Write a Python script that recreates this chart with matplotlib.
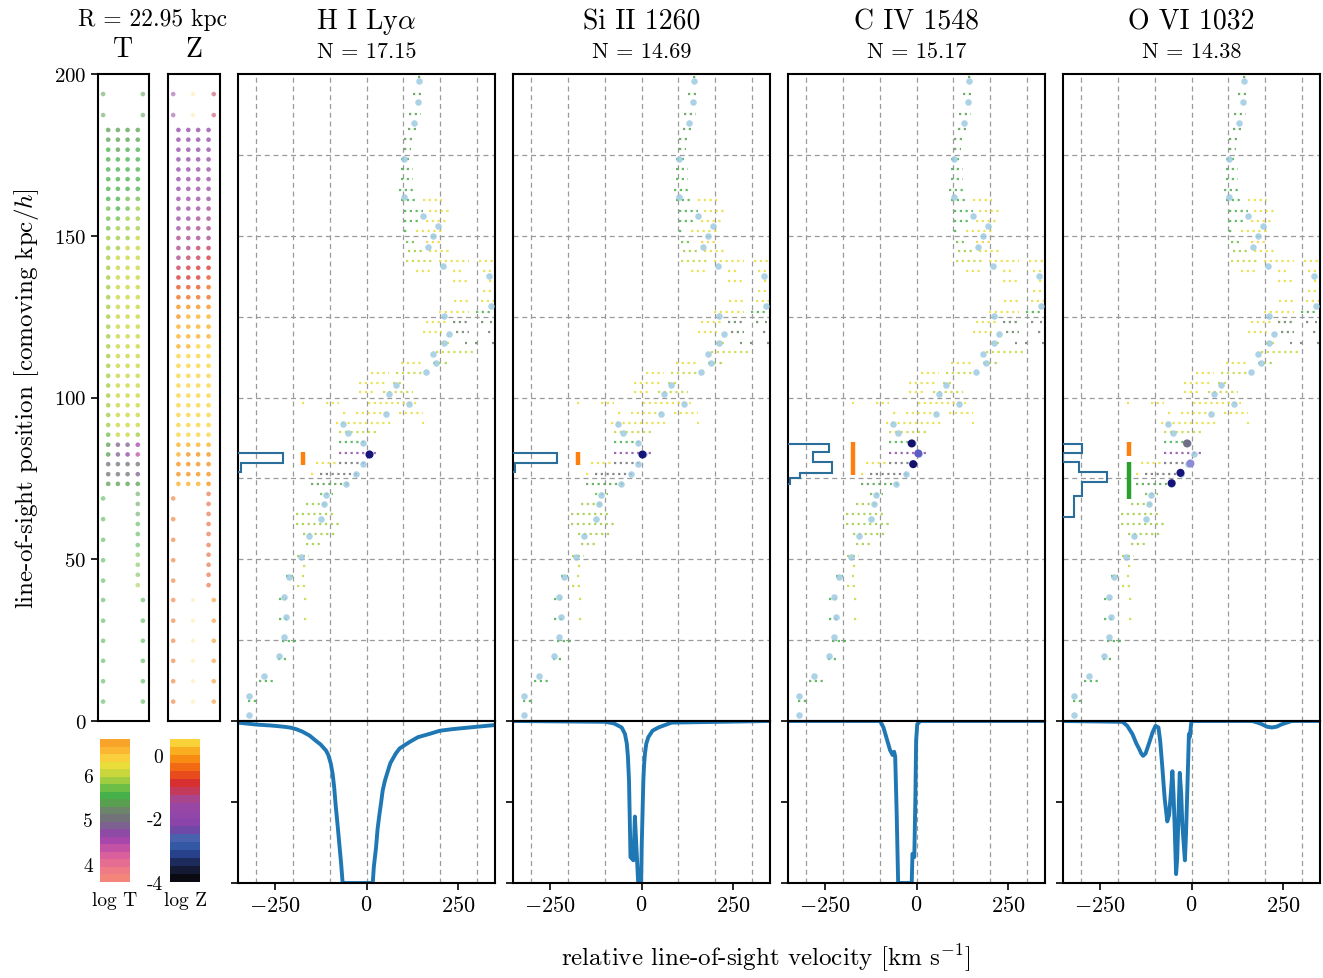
import matplotlib
matplotlib.use("Agg")
import matplotlib.pyplot as plt
import numpy as np
from matplotlib.colors import ListedColormap, Normalize
from matplotlib.cm import ScalarMappable

plt.rcParams.update({
    "font.family": "serif",
    "font.serif": ["cmr10"],
    "mathtext.fontset": "cm",
    "axes.formatter.use_mathtext": True,
    "axes.unicode_minus": True,
})

# ---------------------------------------------------------------- data
ions = ["H I Ly$\\alpha$", "Si II 1260", "C IV 1548", "O VI 1032"]
log_N = [17.15, 14.69, 15.17, 14.38]
impact_R = 22.95

# synthetic spectra: velocity [km/s] and normalised flux
hi_v = [-350, -300, -260, -240, -219, -205, -192, -175, -155, -138, -125, -110, -104, -97,
        -92, -88, -84, -79, -74, -69, -65, 17, 20, 26, 30, 35, 40, 44, 50, 58, 65, 80, 90,
        100, 117, 140, 171, 200, 235, 280, 326, 350]
hi_f = [0.99, 0.978, 0.972, 0.968, 0.963, 0.958, 0.95, 0.935, 0.91, 0.878, 0.855, 0.817,
        0.79, 0.735, 0.67, 0.59, 0.48, 0.364, 0.24, 0.117, 0.0, 0.0, 0.1, 0.22, 0.33, 0.42,
        0.5, 0.57, 0.63, 0.69, 0.74, 0.80, 0.83, 0.845, 0.87, 0.9, 0.92, 0.94, 0.95, 0.96,
        0.97, 0.975]
si_v = [-350, -99, -75, -54, -45, -40, -37, -34, -32, -30, -22, -18, -13, -9, -1, 0.5, 3,
        5, 7, 9.5, 13, 18.5, 30, 46, 82, 350]
si_f = [1.0, 0.995, 0.985, 0.96, 0.92, 0.86, 0.78, 0.63, 0.4, 0.16, 0.14, 0.41, 0.18, 0.0,
        0.0, 0.22, 0.45, 0.63, 0.73, 0.80, 0.86, 0.90, 0.94, 0.96, 0.99, 1.0]
civ_v = [-350, -99, -90, -81, -72, -65, -61, -58, -54, -50, -13, -11, -6, -3, -1, 2, 10, 350]
civ_f = [1.0, 1.0, 0.96, 0.89, 0.82, 0.79, 0.81, 0.78, 0.43, 0.0, 0.0, 0.18, 0.16, 0.53,
         0.88, 0.98, 1.0, 1.0]
ovi_v = [-350, -188, -175, -161, -150, -143, -137, -132, -125, -116, -106, -98, -90, -85,
         -80, -73, -66, -61, -57, -52, -49, -46, -42, -39, -36, -32, -28, -25, -18, -15,
         -12, -7, -5, 0, 165, 180, 192, 205, 219, 232, 246, 273, 350]
ovi_f = [1.0, 0.995, 0.97, 0.92, 0.86, 0.83, 0.80, 0.785, 0.80, 0.86, 0.93, 0.97, 0.96,
         0.87, 0.73, 0.52, 0.38, 0.42, 0.53, 0.69, 0.55, 0.36, 0.055, 0.15, 0.38, 0.68,
         0.55, 0.36, 0.14, 0.3, 0.53, 0.92, 0.90, 1.0, 1.0, 0.99, 0.98, 0.965, 0.96, 0.965,
         0.98, 1.0, 1.0]
spec_v = [hi_v, si_v, civ_v, ovi_v]
spec_f = [hi_f, si_f, civ_f, ovi_f]

# gas cells along the sightline: position [kpc/h], velocity span [km/s], log T
str_y = [199.0, 193.8, 187.6, 183.0, 180.0, 176.8, 173.7, 170.6, 167.4, 164.1,
         160.9, 160.9, 157.8, 157.8, 154.7, 154.7, 151.6, 151.6, 148.2, 148.2,
         145.4, 145.4, 142.3, 142.3, 142.3, 139.2, 139.2, 139.2, 136.1, 136.1,
         133.0, 129.9, 129.9, 126.5, 126.5, 123.2, 123.2, 123.2, 123.2, 120.1,
         120.1, 120.1, 117.0, 117.0, 117.0, 117.0, 114.0, 110.7, 110.7, 107.6,
         107.6, 104.5, 104.5, 101.6, 101.6, 98.3, 98.3, 98.3, 95.2, 95.2,
         95.2, 92.1, 92.1, 89.2, 86.1, 82.8, 79.8, 79.8, 76.4, 76.4,
         73.3, 70.2, 67.1, 64.0, 60.9, 57.8, 54.7, 51.1, 48.0, 44.9,
         44.9, 41.8, 37.7, 37.7, 31.5, 31.5, 24.8, 19.2, 12.5, 6.3]
str_v0 = [140, 126, 117, 112, 103, 103, 94, 94, 94, 89,
          94, 153, 103, 171, 103, 162, 103, 135, 108, 162,
          112, 171, 108, 198, 307, 135, 235, 316, 235, 335,
          316, 239, 312, 198, 298, 162, 235, 313, 336, 153,
          244, 332, 203, 268, 295, 341, 189, 94, 180, 12,
          80, -20, 71, -20, 44, -177, -110, 3, -65, -29,
          89, -83, 150, -74, -74, -74, -138, -74, -151, -128,
          -151, -128, -165, -192, -192, -174, -165, -188, -174, -220,
          -177, -188, -238, -169, -238, -169, -229, -242, -292, -324]
str_v1 = [152, 153, 148, 140, 130, 121, 121, 126, 126, 135,
          135, 207, 153, 226, 140, 217, 117, 212, 135, 203,
          153, 226, 180, 280, 344, 180, 258, 344, 280, 344,
          344, 280, 350, 280, 344, 226, 280, 319, 342, 207,
          280, 338, 226, 274, 301, 347, 289, 153, 226, 62,
          153, 53, 98, 26, 126, -171, -74, 135, -56, 53,
          153, 71, 156, 26, -1, 31, -83, -1, -138, -20,
          -47, -92, -101, -83, -74, -83, -128, -156, -160, -201,
          -171, -160, -220, -160, -210, -160, -192, -220, -247, -301]
str_logT = [5.4, 5.3, 5.3, 5.4, 5.45, 5.45, 5.5, 5.5, 5.5, 5.5,
            5.5, 6.2, 5.6, 6.2, 5.6, 6.2, 5.6, 6.2, 5.7, 6.3,
            5.8, 6.2, 6.0, 6.2, 6.2, 6.2, 6.2, 6.2, 6.2, 6.2,
            6.2, 6.2, 6.2, 6.25, 5.5, 6.25, 5.2, 5.2, 5.2, 6.2,
            5.2, 5.2, 6.1, 5.2, 5.2, 5.2, 6.0, 6.2, 5.8, 6.2,
            6.0, 6.2, 6.0, 6.2, 6.1, 6.2, 6.2, 6.2, 6.2, 6.2,
            6.2, 6.2, 6.2, 6.0, 5.6, 4.7, 6.2, 5.0, 6.2, 5.0,
            5.3, 5.7, 5.9, 5.9, 5.9, 5.9, 5.9, 5.9, 6.1, 5.6,
            6.1, 6.1, 5.6, 6.1, 5.6, 6.1, 5.6, 5.6, 5.6, 5.6]

# mean velocity of each slab along the sightline
slab_v = [144, 139.5, 130, 102, 101, 153, 194, 180, 167, 208, 335, 339, 212, 226, 212,
          180, 189, 162, 80, 62, 117, 53, -65, -51, -10, 6, -10, -29, -56, -110, -115,
          -124, -156, -178, -210, -224, -219, -224, -238, -278, -319, -319]
slab_y = [197.8, 191.3, 185, 173.7, 162, 156, 153, 150, 146.5, 140.7, 137.6, 128.4, 125.3,
          119.6, 117, 113.4, 110.7, 107.8, 104, 101, 98, 95, 91.8, 89, 86, 82.4, 79.4,
          76.4, 73.3, 70, 67, 62.4, 57.3, 50.6, 44.4, 38.2, 32, 25.9, 20.2, 14, 7.8, 1.9]

# absorbing slabs for each ion (velocity, position, colour)
abs_v = [[6], [1], [-13, 5, -9], [-12, -3, -30, -54]]
abs_y = [[82.4], [82.4], [85.8, 82.7, 79.4], [85.8, 79.6, 76.7, 73.5]]
abs_c = [["#16167a"], ["#16167a"], ["#12126e", "#5c5cc4", "#12126e"],
         ["#6e6e86", "#8c8cd6", "#14147a", "#14147a"]]

# column-density histograms along the sightline (bin edges [kpc/h], width [km/s])
hist_edges = [[76.9, 79.8, 82.8], [76.9, 79.8, 82.8],
              [73.3, 75.1, 76.7, 80.0, 83.1, 85.6],
              [63.1, 69.6, 73.8, 76.9, 80.0, 82.8, 85.6]]
hist_width = [[8, 123], [6, 120], [5, 33, 120, 68, 112], [31, 53, 121, 44, 0, 53]]

# identified absorber extents
bar_v = [[-174], [-173], [-174], [-170, -170]]
bar_lo = [[79.1], [79.1], [76.0], [82.0, 68.6]]
bar_hi = [[83.2], [83.2], [86.3], [86.3, 80.2]]
bar_c = [["#ff7f0e"], ["#ff7f0e"], ["#ff7f0e"], ["#ff7f0e", "#2ca02c"]]

# cells in the sightline cylinder: temperature and metallicity maps
fine_rows = [182.7, 179.7, 176.6, 173.6, 170.5, 167.5, 164.5, 161.4, 158.4, 155.3, 152.3,
             149.3, 146.2, 143.2, 140.1, 137.1, 134.1, 131.0, 128.0, 125.0, 121.9, 118.9,
             115.8, 112.8, 109.8, 106.7, 103.7, 100.6, 97.6, 94.6, 91.5, 88.5, 85.4, 82.4,
             79.4, 76.3, 73.3]
fine_cols = [0.2, 0.39, 0.58, 0.78]
T_fine = [
    [5.45, 5.45, 5.45, 5.45], [5.45, 5.45, 5.45, 5.45], [5.50, 5.45, 5.50, 5.50],
    [5.50, 5.50, 5.50, 5.50], [5.55, 5.50, 5.50, 5.50], [5.55, 5.50, 5.55, 5.55],
    [5.60, 5.55, 5.60, 5.60], [5.60, 5.60, 5.65, 5.65], [5.65, 5.60, 5.75, 5.80],
    [5.70, 5.65, 5.85, 5.90], [5.75, 5.80, 5.90, 5.95], [5.80, 5.90, 5.95, 6.00],
    [5.85, 5.95, 6.00, 6.00], [5.85, 6.00, 6.00, 6.00], [5.85, 6.00, 6.00, 6.05],
    [5.90, 6.00, 6.05, 6.00], [5.90, 6.05, 6.00, 6.00], [5.85, 6.00, 6.00, 6.05],
    [5.90, 6.00, 6.05, 6.00], [5.90, 6.00, 6.00, 6.00], [5.90, 6.05, 6.00, 6.00],
    [5.90, 6.00, 6.00, 6.05], [5.90, 6.00, 6.05, 6.00], [5.90, 6.00, 6.00, 6.00],
    [5.85, 6.00, 6.00, 6.00], [5.90, 6.00, 6.00, 6.05], [5.90, 6.05, 6.00, 6.00],
    [5.85, 6.00, 6.00, 6.00], [5.80, 6.00, 6.00, 6.00], [5.80, 6.00, 6.00, 6.05],
    [5.80, 6.00, 6.00, 6.05], [5.70, 6.00, 6.00, 5.95], [5.30, 4.80, 4.80, 4.50],
    [5.30, 4.80, 4.75, 4.40], [5.00, 5.00, 5.00, 5.00], [5.00, 5.00, 5.00, 4.90],
    [5.30, 5.30, 5.30, 5.30]]
Z_fine = [
    [-1.9, -1.9, -1.8, -1.8], [-1.9, -1.9, -1.8, -1.8], [-1.9, -1.8, -1.8, -1.8],
    [-1.9, -1.8, -1.8, -1.7], [-1.8, -1.8, -1.7, -1.7], [-1.8, -1.7, -1.7, -1.7],
    [-1.8, -1.7, -1.7, -1.6], [-1.7, -1.7, -1.6, -1.6], [-1.7, -1.6, -1.6, -1.5],
    [-1.6, -1.6, -1.5, -1.5], [-1.6, -1.5, -1.5, -1.4], [-1.5, -1.4, -1.4, -1.3],
    [-1.4, -1.3, -1.2, -1.2], [-1.3, -1.2, -1.1, -1.0], [-1.1, -1.0, -0.9, -0.9],
    [-0.9, -0.8, -0.8, -0.7], [-0.7, -0.6, -0.6, -0.5], [-0.4, -0.4, -0.3, -0.3],
    [-0.2, -0.2, -0.1, -0.1], [-0.1, 0.0, 0.0, 0.0], [0.05, 0.1, 0.1, 0.1],
    [0.1, 0.15, 0.15, 0.2], [0.2, 0.2, 0.25, 0.25], [0.25, 0.3, 0.3, 0.3],
    [0.3, 0.3, 0.3, 0.3], [0.3, 0.3, 0.35, 0.35], [0.3, 0.35, 0.35, 0.35],
    [0.35, 0.35, 0.35, 0.35], [0.35, 0.35, 0.35, 0.35], [0.35, 0.35, 0.35, 0.35],
    [0.35, 0.35, 0.35, 0.35], [0.3, 0.3, 0.3, 0.3], [0.1, 0.0, 0.0, 0.0],
    [0.0, -0.1, -0.1, -0.1], [-0.1, -0.15, -0.2, -0.2], [-0.1, -0.15, -0.2, -0.2],
    [0.0, 0.1, 0.1, -0.1]]

# coarse cells near the ends of the sightline
coarse_x = [0.1, 0.88, 0.1, 0.88,
            0.1, 0.1, 0.1, 0.1, 0.1, 0.1, 0.1, 0.1, 0.1, 0.1, 0.1,
            0.78, 0.78, 0.78, 0.78, 0.78, 0.78, 0.78, 0.78, 0.78, 0.78,
            0.88, 0.88, 0.88, 0.88, 0.88, 0.88]
coarse_y = [193.8, 193.8, 187.3, 187.3,
            68.8, 62.4, 56.0, 49.7, 43.4, 37.4, 31.0, 24.8, 18.6, 12.3, 6.0,
            70.2, 67.1, 64.0, 60.9, 57.8, 54.4, 51.4, 48.3, 45.2, 42.0,
            37.4, 31.0, 24.8, 18.6, 12.3, 6.0]
T_coarse = [5.4, 5.4, 5.4, 5.4,
            5.5, 5.5, 5.5, 5.5, 5.5, 5.5, 5.5, 5.5, 5.5, 5.5, 5.5,
            5.35, 5.4, 5.45, 5.5, 5.55, 5.6, 5.65, 5.7, 5.75, 5.8,
            5.6, 5.6, 5.6, 5.6, 5.6, 5.6]
Z_coarse = [-1.7, -1.2, -1.7, -1.2,
            -0.3, -0.3, -0.3, -0.3, -0.3, -0.3, -0.3, -0.3, -0.3, -0.3, -0.3,
            -0.6, -0.6, -0.6, -0.6, -0.6, -0.6, -0.6, -0.6, -0.6, -0.6,
            -0.2, -0.2, -0.2, -0.2, -0.2, -0.2]
faint_y = [193.8, 187.3, 37.4, 31.0, 24.8, 18.6, 12.3, 6.0]
faint_Z = [0.4, 0.4, 0.4, 0.4, 0.4, 0.4, 0.4, 0.4]

# ---------------------------------------------------------------- colour maps
T_COLORS = ['#f4857a', '#ee7b86', '#e66d92', '#d9609c', '#c452a4', '#a747ac', '#8d4ba6',
            '#7d6190', '#727379', '#6c8469', '#58a050', '#46b04a', '#6cbe47', '#a0cc42',
            '#c9d63c', '#e9dd3a', '#f9cf3d', '#fbb731', '#f8a42a']
Z_COLORS = ['#0a0a12', '#141a34', '#1d2a5c', '#27428a', '#3558a4', '#4862ae', '#7048a8',
            '#8a44aa', '#9146a8', '#9848a4', '#a8458c', '#c43a5a', '#d83030', '#e84c1c',
            '#f26a14', '#f88c12', '#fbad22', '#f9d23a']
cmap_T = ListedColormap(T_COLORS)
cmap_Z = ListedColormap(Z_COLORS)
norm_T = Normalize(3.6, 6.8)
norm_Z = Normalize(-4.0, 0.5)

# ---------------------------------------------------------------- figure
W, H = 1323, 979
fig = plt.figure(figsize=(W / 100, H / 100), dpi=100)


def box(x0, y0, x1, y1):
    return fig.add_axes([x0 / W, 1 - y1 / H, (x1 - x0) / W, (y1 - y0) / H])


FRAME_LW = 1.5
GRID = dict(color="#9a9a9a", linestyle=(0, (4, 3)), linewidth=0.9)

# temperature / metallicity columns
axT = box(98, 75, 149, 722)
axZ = box(168, 75, 220, 722)
fy = np.repeat(fine_rows, len(fine_cols))
fx = np.tile(fine_cols, len(fine_rows))
for ax, fine, coarse, cm, nm in ((axT, T_fine, T_coarse, cmap_T, norm_T),
                                 (axZ, Z_fine, Z_coarse, cmap_Z, norm_Z)):
    ax.set_xlim(0, 1)
    ax.set_ylim(0, 200)
    ax.set_xticks([])
    for s in ax.spines.values():
        s.set_linewidth(FRAME_LW)
    ax.scatter(fx, fy, c=np.ravel(fine), cmap=cm, norm=nm, s=11, alpha=0.75, lw=0)
    ax.scatter(coarse_x, coarse_y, c=coarse, cmap=cm, norm=nm, s=11, alpha=0.55, lw=0)
axZ.scatter([0.48] * len(faint_y), faint_y, c=faint_Z, cmap=cmap_Z, norm=norm_Z,
            s=9, alpha=0.25, lw=0)
axT.set_yticks([0, 50, 100, 150, 200])
axT.tick_params(axis="y", labelsize=15, length=5, width=1.2)
axZ.set_yticks([])
axT.set_ylabel("line-of-sight position [comoving kpc/$h$]", fontsize=18, labelpad=9)

fig.text(153 / W, 1 - 20 / H, f"R = {impact_R:.2f} kpc", ha="center", va="center",
         fontsize=17)
fig.text(123 / W, 1 - 50 / H, "T", ha="center", va="center", fontsize=20)
fig.text(194 / W, 1 - 50 / H, "Z", ha="center", va="center", fontsize=20)

# colour bars
caxT = box(100, 740, 130, 883)
caxZ = box(170, 740, 200, 883)
cbT = fig.colorbar(ScalarMappable(norm_T, cmap_T), cax=caxT, ticks=[4, 5, 6])
cbZ = fig.colorbar(ScalarMappable(norm_Z, cmap_Z), cax=caxZ, ticks=[-4, -2, 0])
for cb, labels in ((cbT, ["4", "5", "6"]), (cbZ, ["-4", "-2", "0"])):
    cb.outline.set_visible(False)
    cb.ax.yaxis.set_ticks_position("left")
    cb.ax.set_yticklabels(labels)
    cb.ax.tick_params(length=0, labelsize=14, pad=5)
fig.text(115 / W, 1 - 901 / H, "log T", ha="center", va="center", fontsize=14)
fig.text(185 / W, 1 - 901 / H, "log Z", ha="center", va="center", fontsize=14)

# ion panels
lefts = [238, 513, 788, 1063]
PW = 257
str_colors = cmap_T(norm_T(np.array(str_logT)))
for i, x0 in enumerate(lefts):
    ax = box(x0, 75, x0 + PW, 722)
    ax.set_xlim(-350, 350)
    ax.set_ylim(0, 200)
    ax.set_xticks(np.arange(-300, 301, 100))
    ax.set_yticks(np.arange(25, 176, 25))
    ax.tick_params(length=0, labelbottom=False, labelleft=False)
    ax.grid(True, **GRID)
    ax.set_axisbelow(True)
    for s in ax.spines.values():
        s.set_linewidth(FRAME_LW)

    ax.hlines(str_y, str_v0, str_v1, colors=str_colors, linestyles=(0, (1, 1.6)),
              lw=1.6, alpha=0.85)
    ax.scatter(slab_v, slab_y, s=22, color="#9ecae1", alpha=0.85, lw=0, zorder=3)
    ax.scatter(abs_v[i], abs_y[i], s=34, c=abs_c[i], lw=0, zorder=4)

    widths = np.array(hist_width[i], dtype=float)
    ax.stairs(-350 + widths, hist_edges[i], orientation="horizontal", baseline=-350,
              color="#2b6e99", lw=1.5, zorder=4)
    ax.vlines(bar_v[i], bar_lo[i], bar_hi[i], colors=bar_c[i], lw=3.2, zorder=4)

    fig.text((x0 + PW / 2) / W, 1 - 22 / H, ions[i], ha="center", va="center", fontsize=20)
    fig.text((x0 + PW / 2) / W, 1 - 52 / H, f"N = {log_N[i]:.2f}", ha="center",
             va="center", fontsize=16)

    sp = box(x0, 722, x0 + PW, 884)
    sp.set_xlim(-350, 350)
    sp.set_ylim(0, 1)
    sp.set_xticks([-250, 0, 250])
    sp.set_xticks(np.arange(-300, 301, 100), minor=True)
    sp.xaxis.remove_overlapping_locs = False
    sp.set_yticks([0, 0.5, 1])
    sp.set_yticklabels([])
    sp.grid(True, which="minor", axis="x", **GRID)
    sp.set_axisbelow(True)
    sp.tick_params(which="minor", length=0)
    sp.tick_params(which="major", length=5, width=1.2, labelsize=16)
    for s in sp.spines.values():
        s.set_linewidth(FRAME_LW)
    sp.plot(spec_v[i], spec_f[i], color="#1f77b4", lw=2.8, solid_joinstyle="round",
            solid_capstyle="round")

fig.text(766 / W, 1 - 958 / H, "relative line-of-sight velocity [km s$^{-1}$]",
         ha="center", va="center", fontsize=18)

fig.savefig("out.png", dpi=100)
